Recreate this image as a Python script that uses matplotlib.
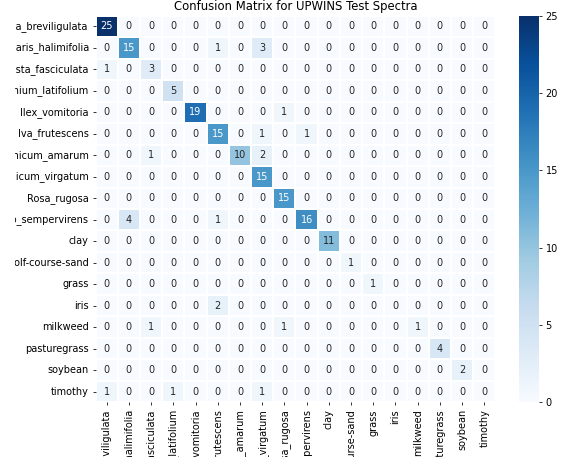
import numpy as np
import matplotlib
matplotlib.use("Agg")
import matplotlib.pyplot as plt
import seaborn as sns
from matplotlib.transforms import Bbox, TransformedBbox

classes = [
    "Ammophila_breviligulata", "Baccharis_halimifolia", "Chamaecrista_fasciculata",
    "Chasmanthium_latifolium", "Ilex_vomitoria", "Iva_frutescens",
    "Panicum_amarum", "Panicum_virgatum", "Rosa_rugosa",
    "Solidago_sempervirens", "clay", "golf-course-sand", "grass", "iris",
    "milkweed", "pasturegrass", "soybean", "timothy",
]

row_ammophila = [25, 0, 0, 0, 0, 0, 0, 0, 0, 0, 0, 0, 0, 0, 0, 0, 0, 0]
row_baccharis = [0, 15, 0, 0, 0, 1, 0, 3, 0, 0, 0, 0, 0, 0, 0, 0, 0, 0]
row_chamaecrista = [1, 0, 3, 0, 0, 0, 0, 0, 0, 0, 0, 0, 0, 0, 0, 0, 0, 0]
row_chasmanthium = [0, 0, 0, 5, 0, 0, 0, 0, 0, 0, 0, 0, 0, 0, 0, 0, 0, 0]
row_ilex = [0, 0, 0, 0, 19, 0, 0, 0, 1, 0, 0, 0, 0, 0, 0, 0, 0, 0]
row_iva = [0, 0, 0, 0, 0, 15, 0, 1, 0, 1, 0, 0, 0, 0, 0, 0, 0, 0]
row_amarum = [0, 0, 1, 0, 0, 0, 10, 2, 0, 0, 0, 0, 0, 0, 0, 0, 0, 0]
row_virgatum = [0, 0, 0, 0, 0, 0, 0, 15, 0, 0, 0, 0, 0, 0, 0, 0, 0, 0]
row_rosa = [0, 0, 0, 0, 0, 0, 0, 0, 15, 0, 0, 0, 0, 0, 0, 0, 0, 0]
row_solidago = [0, 4, 0, 0, 0, 1, 0, 0, 0, 16, 0, 0, 0, 0, 0, 0, 0, 0]
row_clay = [0, 0, 0, 0, 0, 0, 0, 0, 0, 0, 11, 0, 0, 0, 0, 0, 0, 0]
row_golf = [0, 0, 0, 0, 0, 0, 0, 0, 0, 0, 0, 1, 0, 0, 0, 0, 0, 0]
row_grass = [0, 0, 0, 0, 0, 0, 0, 0, 0, 0, 0, 0, 1, 0, 0, 0, 0, 0]
row_iris = [0, 0, 0, 0, 0, 2, 0, 0, 0, 0, 0, 0, 0, 0, 0, 0, 0, 0]
row_milkweed = [0, 0, 1, 0, 0, 0, 0, 0, 1, 0, 0, 0, 0, 0, 1, 0, 0, 0]
row_pasturegrass = [0, 0, 0, 0, 0, 0, 0, 0, 0, 0, 0, 0, 0, 0, 0, 4, 0, 0]
row_soybean = [0, 0, 0, 0, 0, 0, 0, 0, 0, 0, 0, 0, 0, 0, 0, 0, 2, 0]
row_timothy = [1, 0, 0, 1, 0, 0, 0, 1, 0, 0, 0, 0, 0, 0, 0, 0, 0, 0]

cm = np.array([
    row_ammophila, row_baccharis, row_chamaecrista, row_chasmanthium,
    row_ilex, row_iva, row_amarum, row_virgatum, row_rosa, row_solidago,
    row_clay, row_golf, row_grass, row_iris, row_milkweed,
    row_pasturegrass, row_soybean, row_timothy,
])

DPI = 70
W, H = 562, 460
fig = plt.figure(figsize=(W / DPI, H / DPI), dpi=DPI)
ax = fig.add_axes([0.1701, 0.1252, 0.7114, 0.8409])
cax = fig.add_axes([0.924, 0.1252, 0.0345, 0.8409])

sns.heatmap(cm, annot=True, fmt="d", cmap="Blues", vmin=0, vmax=25,
            linewidths=0.5, linecolor="white",
            xticklabels=classes, yticklabels=classes,
            ax=ax, cbar_ax=cax)

ax.set_title("Confusion Matrix for UPWINS Test Spectra", fontsize=12)
ax.tick_params(axis="x", labelrotation=90)
ax.tick_params(axis="y", labelrotation=0)
cax.set_yticks([0, 5, 10, 15, 20, 25])

# long class names run past the visible frame on the left and bottom
frame = TransformedBbox(Bbox.from_extents(15 / W, 3 / H, 1, 1), fig.transFigure)
for lab in ax.get_xticklabels() + ax.get_yticklabels():
    lab.set_clip_box(frame)
    lab.set_clip_on(True)

fig.savefig("out.png", dpi=DPI)
